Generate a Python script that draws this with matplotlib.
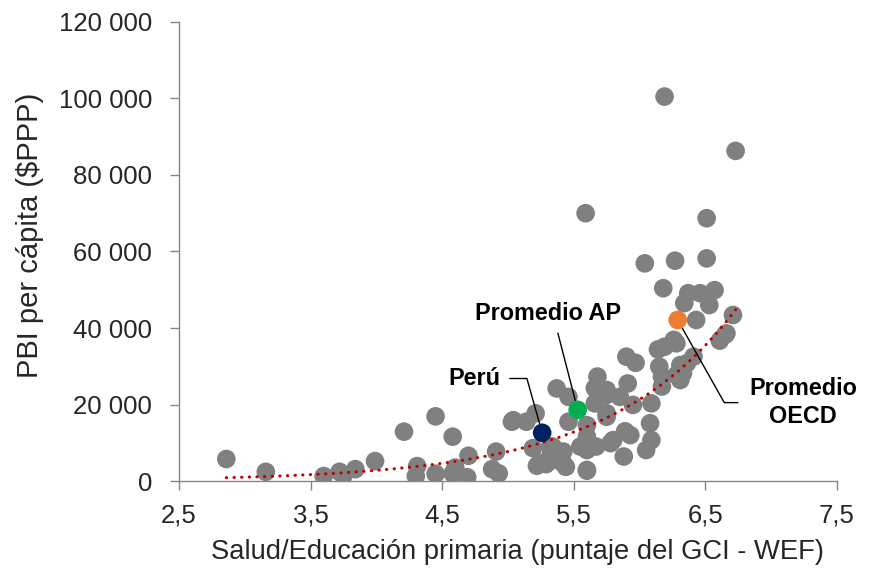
import matplotlib
matplotlib.use('Agg')
import matplotlib.pyplot as plt
from matplotlib.ticker import FuncFormatter
import numpy as np

plt.rcParams['font.family'] = ['Liberation Sans', 'DejaVu Sans']

# puntaje GCI (salud/educacion primaria) y PBI per capita
gci = [2.86, 3.16, 3.60, 3.72, 3.75, 3.84, 3.99, 4.21, 4.45, 4.58,
       4.31, 4.30, 4.45, 4.58, 4.60, 4.70, 4.69, 4.91, 4.88, 4.93,
       5.03, 5.21, 5.14, 5.37, 5.46, 5.32, 5.40, 5.22, 5.29, 5.44,
       5.60, 5.55, 5.60, 5.68, 5.66, 5.75, 5.75, 5.78, 5.88, 5.90,
       5.97, 5.91, 5.89, 5.93, 5.80, 5.19, 5.46, 5.66, 5.85, 5.95,
       6.09, 6.14, 6.17, 6.17, 6.28, 6.31, 6.26, 6.36, 6.41, 6.61,
       6.66, 6.43, 6.08, 6.09, 6.05, 5.67, 5.60, 5.42, 5.37, 5.24,
       5.42, 6.04, 6.27, 6.51, 6.18, 6.37, 6.46, 6.57, 6.34, 6.53,
       6.71, 6.65, 6.28, 6.19, 6.15, 6.31, 6.33, 5.75, 5.60, 5.32,
       6.19, 6.73, 5.59, 6.51, 5.04, 5.60, 5.34, 5.75]
pbi = [5750, 2400, 1300, 2400, 1400, 3100, 5200, 12900, 16900, 11600,
       3900, 1300, 1900, 2000, 3500, 6600, 1000, 7700, 3100, 2000,
       15500, 17700, 15500, 24200, 15500, 9000, 6400, 4000, 4400, 3700,
       2700, 9000, 11600, 27300, 24300, 22500, 16800, 9900, 6400, 32500,
       30900, 25500, 13000, 12000, 10700, 8600, 22000, 20300, 22000, 19900,
       20300, 34400, 27300, 24700, 27700, 26400, 36900, 30800, 32500, 36700,
       38600, 42100, 15100, 10700, 8100, 9000, 8100, 7700, 5500, 4600,
       4600, 56900, 57600, 58200, 50400, 49100, 49100, 49900, 46500, 46000,
       43400, 38200, 36000, 35100, 29900, 30300, 28200, 23800, 14600, 6400,
       100500, 86300, 70000, 68700, 15900, 2900, 9000, 17700]

peru = (5.26, 12600)
prom_ap = (5.53, 18600)
prom_oecd = (6.29, 42100)

x_ticks = [2.5, 3.5, 4.5, 5.5, 6.5, 7.5]
y_ticks = [0, 20000, 40000, 60000, 80000, 100000, 120000]

fig = plt.figure(figsize=(8.7, 5.71), dpi=100)
ax = fig.add_axes([0.2057, 0.1576, 0.7563, 0.8039])

ax.scatter(gci, pbi, s=180, color='#808080', edgecolors='none', zorder=2)

# tendencia exponencial ajustada sobre los paises (incluye Peru)
allx = np.array(gci + [peru[0]])
ally = np.array(pbi + [peru[1]])
b, lna = np.polyfit(allx, np.log(ally), 1)
xt = np.linspace(allx.min(), allx.max(), 200)
ax.plot(xt, np.exp(lna + b * xt), color='#C00000', lw=2.2,
        linestyle=(0, (0.1, 2.4)), dash_capstyle='round', zorder=3)

ax.scatter(*peru, s=180, color='#002060', edgecolors='none', zorder=4)
ax.scatter(*prom_ap, s=180, color='#00B050', edgecolors='none', zorder=4)
ax.scatter(*prom_oecd, s=180, color='#ED7D31', edgecolors='none', zorder=4)

lbl = dict(fontsize=16.8, fontweight='bold', ha='center', va='baseline')
ax.annotate('Perú', xy=peru, xytext=(4.742, 25100), **lbl,
            arrowprops=dict(arrowstyle='-', color='black', lw=1,
                            shrinkA=5, shrinkB=0, relpos=(1, 0.5),
                            connectionstyle='angle,angleA=0,angleB=105.7,rad=0'))
ax.annotate('Promedio AP', xy=prom_ap, xytext=(5.308, 42100), **lbl,
            arrowprops=dict(arrowstyle='-', color='black', lw=1,
                            shrinkA=4, shrinkB=0, relpos=(0.55, 0)))
ax.annotate('Promedio\nOECD', xy=prom_oecd, xytext=(7.242, 15200), **lbl,
            linespacing=1.25,
            arrowprops=dict(arrowstyle='-', color='black', lw=1,
                            shrinkA=6, shrinkB=0, relpos=(0, 0.5),
                            connectionstyle='angle,angleA=180,angleB=-60.6,rad=0'))

ax.set_xlim(2.5, 7.5)
ax.set_ylim(0, 120000)
ax.set_xticks(x_ticks)
ax.set_yticks(y_ticks)
ax.xaxis.set_major_formatter(FuncFormatter(lambda v, p: f'{v:.1f}'.replace('.', ',')))
ax.yaxis.set_major_formatter(FuncFormatter(lambda v, p: f'{int(v):,}'.replace(',', ' ')))

for s in ['top', 'right']:
    ax.spines[s].set_visible(False)
for s in ['left', 'bottom']:
    ax.spines[s].set_color('#868686')
    ax.spines[s].set_linewidth(1.0)
ax.tick_params(axis='both', colors='#868686', labelcolor='#262626',
               labelsize=18.5, length=6.5, width=1)
ax.tick_params(axis='y', pad=13)
ax.tick_params(axis='x', pad=10)

ax.set_xlabel('Salud/Educación primaria (puntaje del GCI - WEF)', fontsize=19.7,
              color='#262626', va='center')
ax.xaxis.set_label_coords(0.515, -0.155)
ax.set_ylabel('PBI per cápita ($PPP)', fontsize=21, color='#262626', va='center')
ax.yaxis.set_label_coords(-0.226, 0.536)

fig.savefig('out.png', dpi=100)
